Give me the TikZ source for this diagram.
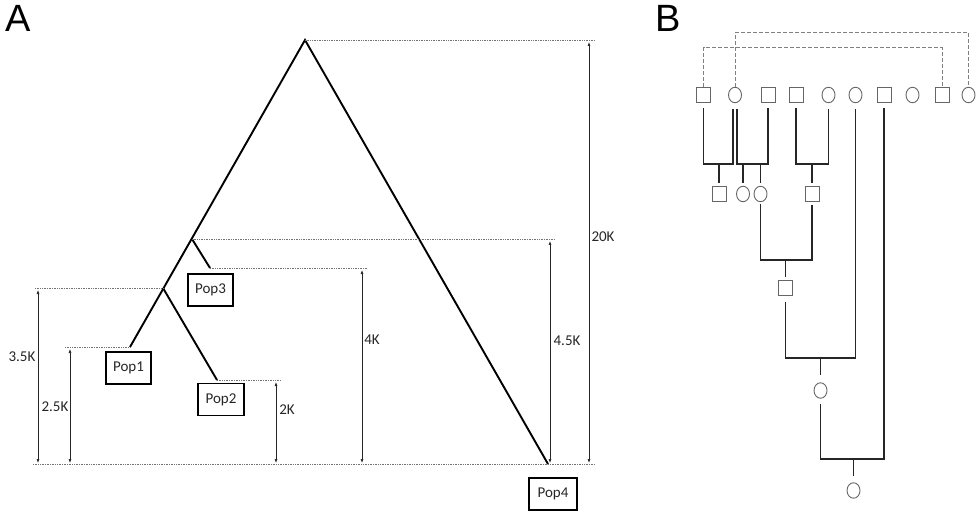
\documentclass[tikz,border=0pt]{standalone}
\usepackage{fontspec}
\setmainfont{Carlito}
\newfontfamily\headfont{Liberation Sans}
\usetikzlibrary{shapes.geometric,arrows.meta}
\begin{document}
\begin{tikzpicture}[x=1pt,y=-1pt,
  branch/.style={line width=1.9pt, black},
  guide/.style={densely dotted, black!55, line width=0.7pt},
  dim/.style={{Latex[length=4pt,width=3pt]}-{Latex[length=4pt,width=3pt]}, line width=0.6pt, black!85},
  poplabel/.style={draw, line width=1.6pt, minimum width=45pt, minimum height=32pt, inner sep=0pt, font=\fontsize{15}{18}\selectfont, text=black!85},
  dimlabel/.style={inner sep=0pt, font=\fontsize{15}{18}\selectfont, text=black!85},
  head/.style={inner sep=0pt, anchor=base west, font=\headfont\fontsize{38}{40}\selectfont},
  sq/.style={rectangle, draw=black!60, line width=0.9pt, minimum width=14pt, minimum height=15pt, inner sep=0pt},
  ci/.style={ellipse, draw=black!60, line width=0.9pt, minimum width=13pt, minimum height=15.5pt, inner sep=0pt},
  kin/.style={line width=1.4pt, black!85},
  dashlink/.style={dashed, black!50, line width=0.9pt, dash pattern=on 4pt off 2pt}
]
\useasboundingbox (0,0) rectangle (979,529);

% ---------------- Panel A ----------------
\node[head] (A) at (5,32) {A};

\coordinate (apex) at (305,40);
\coordinate (j3) at (192,239);
\coordinate (t3) at (210,268);
\coordinate (j12) at (163,288);
\coordinate (t1) at (130,347);
\coordinate (t2) at (217,380);
\coordinate (t4) at (548,464);

\draw[branch] (t1) -- (apex) -- (t4);
\draw[branch] (j3) -- (t3);
\draw[branch] (j12) -- (t2);

% guide lines
\coordinate (g20e) at (595,40);
\coordinate (g45e) at (555,239);
\coordinate (g4e) at (367,268);
\coordinate (g35s) at (35,288);
\coordinate (g25s) at (65,347);
\coordinate (g2e) at (280,380);
\coordinate (base s) at (33,464);
\coordinate (base e) at (595,464);
\draw[guide] (apex) -- (g20e);
\draw[guide] (j3) -- (g45e);
\draw[guide] (t3) -- (g4e);
\draw[guide] (g35s) -- (j12);
\draw[guide] (g25s) -- (t1);
\draw[guide] (t2) -- (g2e);
\draw[guide] (base s) -- (base e);

% dimension arrows
\coordinate (d35a) at (38,290);  \coordinate (d35b) at (38,463);
\coordinate (d25a) at (70,349);  \coordinate (d25b) at (70,463);
\coordinate (d2a) at (276,382);  \coordinate (d2b) at (276,463);
\coordinate (d4a) at (362,270);  \coordinate (d4b) at (362,463);
\coordinate (d45a) at (550,241); \coordinate (d45b) at (550,463);
\coordinate (d20a) at (589,42);  \coordinate (d20b) at (589,463);
\draw[dim] (d35a) -- (d35b);
\draw[dim] (d25a) -- (d25b);
\draw[dim] (d2a) -- (d2b);
\draw[dim] (d4a) -- (d4b);
\draw[dim] (d45a) -- (d45b);
\draw[dim] (d20a) -- (d20b);

\node[dimlabel] (l35) at (22,357) {3.5K};
\node[dimlabel] (l25) at (55,407) {2.5K};
\node[dimlabel] (l2) at (287,410) {2K};
\node[dimlabel] (l4) at (372,340) {4K};
\node[dimlabel] (l45) at (567,341) {4.5K};
\node[dimlabel] (l20) at (603,237) {20K};

\node[poplabel] (p1) at (128.5,368) {Pop1};
\node[poplabel, minimum width=46pt] (p2) at (221,399.5) {Pop2};
\node[poplabel] (p3) at (210.5,290) {Pop3};
\node[poplabel, minimum width=48pt] (p4) at (553,494) {Pop4};

% ---------------- Panel B ----------------
\node[head] (B) at (655,32) {B};

\node[sq] (s1) at (703.5,95) {};
\node[ci] (c2) at (735,95) {};
\node[sq] (s3) at (768,95) {};
\node[sq] (s4) at (796,95) {};
\node[ci] (c5) at (828.5,95) {};
\node[ci] (c6) at (855.5,95) {};
\node[sq] (s7) at (884,95) {};
\node[ci] (c8) at (912.5,95) {};
\node[sq] (s9) at (942,95) {};
\node[ci] (c10) at (968.5,95) {};

\draw[dashlink] (s1.north) -- ++(0,-39.5) -| (s9.north);
\draw[dashlink] (c2.north) -- ++(0,-54) -| (c10.north);

\node[sq] (k1) at (719,194) {};
\node[ci] (k2) at (743,194) {};
\node[ci] (k3) at (760.5,194) {};
\node[sq] (k4) at (812,194) {};
\node[sq] (g1) at (785.5,288) {};
\node[ci] (g2) at (820.5,390.5) {};
\node[ci] (g3) at (853.5,490.5) {};

% marriage 1: s1 x c2
\coordinate (m1l) at (703.5,164); \coordinate (m1r) at (733,164);
\draw[kin] ([yshift=-5.5pt]s1.south) -- (m1l) -- (m1r) -- ([xshift=-2pt,yshift=-5.5pt]c2.south);
\coordinate (m1c) at (719,164);
\draw[kin] (m1c) -- ([yshift=3pt]k1.north);

% marriage 2: c2 x s3
\coordinate (m2l) at (737,164); \coordinate (m2r) at (768,164);
\draw[kin] ([xshift=2pt,yshift=-5.5pt]c2.south) -- (m2l) -- (m2r) -- ([yshift=-5.5pt]s3.south);
\coordinate (m2a) at (743,164); \coordinate (m2b) at (760.5,164);
\draw[kin] (m2a) -- ([yshift=3pt]k2.north);
\draw[kin] (m2b) -- ([yshift=3pt]k3.north);

% marriage 3: s4 x c5
\coordinate (m3l) at (796,164); \coordinate (m3r) at (828.5,164);
\draw[kin] ([yshift=-5.5pt]s4.south) -- (m3l) -- (m3r) -- ([yshift=-5.5pt]c5.south);
\coordinate (m3c) at (812,164);
\draw[kin] (m3c) -- ([yshift=3pt]k4.north);

% marriage 4: k3 x k4
\coordinate (m4l) at (760.5,260); \coordinate (m4r) at (812,260);
\draw[kin] ([yshift=-2pt]k3.south) -- (m4l) -- (m4r) -- ([yshift=-3pt]k4.south);
\coordinate (m4c) at (785.5,260);
\draw[kin] (m4c) -- ([yshift=3pt]g1.north);

% marriage 5: g1 x c6
\coordinate (m5l) at (785.5,358); \coordinate (m5r) at (855.5,358);
\draw[kin] ([yshift=-6pt]g1.south) -- (m5l) -- (m5r) -- ([yshift=-5.5pt]c6.south);
\coordinate (m5c) at (820.5,358);
\draw[kin] (m5c) -- ([yshift=7pt]g2.north);

% marriage 6: g2 x s7
\coordinate (m6l) at (820.5,459); \coordinate (m6r) at (884,459);
\draw[kin] ([yshift=-5pt]g2.south) -- (m6l) -- (m6r) -- ([yshift=-5.5pt]s7.south);
\coordinate (m6c) at (853.5,459);
\draw[kin] (m6c) -- ([yshift=6pt]g3.north);
\end{tikzpicture}
\end{document}
